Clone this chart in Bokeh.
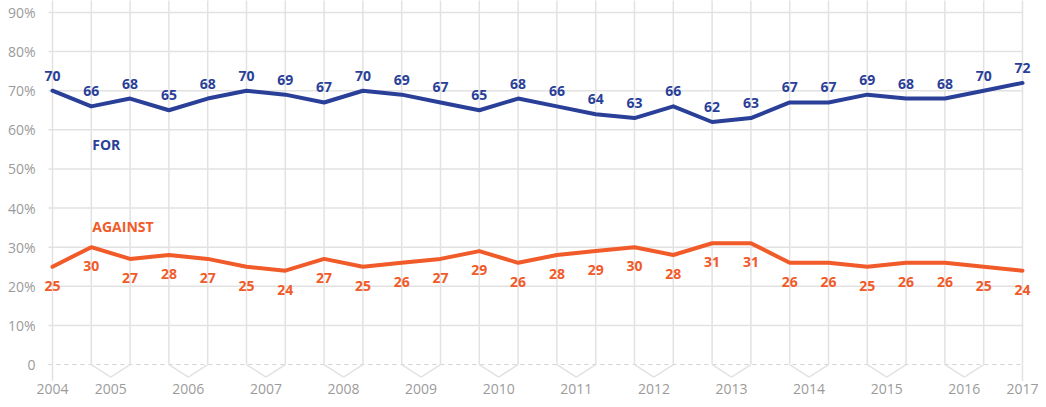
from bokeh.plotting import figure
from bokeh.models import FixedTicker, Range1d, ColumnDataSource
from bokeh.core.properties import value
from bokeh.embed import file_html
from bokeh.resources import INLINE

# ---- data ----
for_vals = [70, 66, 68, 65, 68, 70, 69, 67, 70, 69, 67, 65, 68, 66, 64, 63, 66, 62, 63, 67, 67, 69, 68, 68, 70, 72]
against_vals = [25, 30, 27, 28, 27, 25, 24, 27, 25, 26, 27, 29, 26, 28, 29, 30, 28, 31, 31, 26, 26, 25, 26, 26, 25, 24]
years = ["2004", "2005", "2006", "2007", "2008", "2009", "2010", "2011", "2012",
         "2013", "2014", "2015", "2016", "2017"]
y_ticks = [0, 10, 20, 30, 40, 50, 60, 70, 80, 90]
y_tick_labels = ["0", "10%", "20%", "30%", "40%", "50%", "60%", "70%", "80%", "90%"]
series_names = ["FOR", "AGAINST"]

BLUE = "#2a3f98"
ORANGE = "#f15a29"
GRID = "#e2e2e2"
LABEL_GRAY = "#9b9b9b"
FONT = "Open Sans"

n = len(for_vals)
idx = list(range(n))
# year label positions: first survey, then each pair of surveys, then last
year_pos = [0.0] + [2 * k - 0.5 for k in range(1, 13)] + [float(n - 1)]

src = ColumnDataSource(dict(
    x=idx,
    f=for_vals,
    a=against_vals,
    ft=[str(v) for v in for_vals],
    at=[str(v) for v in against_vals],
))

p = figure(width=1038, height=399, output_backend="svg", toolbar_location=None,
           x_range=Range1d(-0.309, 25.412), y_range=Range1d(-4.6, 93.07),
           min_border_left=40, min_border_right=0, min_border_top=0, min_border_bottom=17)
p.outline_line_color = None
p.background_fill_color = "white"
p.border_fill_color = "white"
p.xgrid.grid_line_color = None
p.ygrid.grid_line_color = None

gx0 = -0.103
gx1 = float(n - 1)
# horizontal grid lines
hg = y_ticks[1:]
p.segment(x0=[gx0] * len(hg), y0=hg, x1=[gx1] * len(hg), y1=hg,
          line_color=GRID, line_width=1.5)
# zero line dashed
p.segment(x0=[gx0], y0=[0], x1=[gx1], y1=[0], line_color="#d4d4d4",
          line_width=1.2, line_dash="4 4")

# vertical grid lines at each survey
p.segment(x0=idx, y0=[0] * n, x1=idx, y1=[100] * n, line_color=GRID, line_width=1.5)
# bracket ticks joining each pair of surveys below zero line
bx0, by0, bx1, by1 = [], [], [], []
for k in range(1, 13):
    mid = 2 * k - 0.5
    for xi in (2 * k - 1, 2 * k):
        bx0.append(xi); by0.append(0); bx1.append(mid); by1.append(-3.2)
bx0 += [0, n - 1]; by0 += [0, 0]; bx1 += [0, n - 1]; by1 += [-4.2, -4.2]
p.segment(x0=bx0, y0=by0, x1=bx1, y1=by1, line_color=GRID, line_width=1.5)

# lines
p.line("x", "f", source=src, line_color=BLUE, line_width=4, line_join="round", line_cap="round")
p.line("x", "a", source=src, line_color=ORANGE, line_width=4, line_join="round", line_cap="round")

# value labels
p.text("x", "f", text="ft", source=src, text_align="center", text_baseline="middle",
       y_offset=-15, text_color=BLUE, text_font=value(FONT), text_font_size="14px",
       text_font_style="bold")
p.text("x", "a", text="at", source=src, text_align="center", text_baseline="middle",
       y_offset=19, text_color=ORANGE, text_font=value(FONT), text_font_size="14px",
       text_font_style="bold")

# series names
p.text(x=[1, 1], y=[56.3, 35.4], text=series_names, text_align="left", text_baseline="middle",
       x_offset=1, text_color=[BLUE, ORANGE], text_font=value(FONT), text_font_size="14px",
       text_font_style="bold")

# axes
p.yaxis.ticker = FixedTicker(ticks=y_ticks)
p.yaxis.major_label_overrides = {t: l for t, l in zip(y_ticks, y_tick_labels)}
p.yaxis.axis_line_color = None
p.yaxis.major_tick_line_color = None
p.yaxis.minor_tick_line_color = None
p.yaxis.major_tick_out = 0
p.yaxis.major_label_standoff = 5
p.yaxis.major_label_text_color = LABEL_GRAY
p.yaxis.major_label_text_font = FONT
p.yaxis.major_label_text_font_size = "14px"

p.xaxis.ticker = FixedTicker(ticks=year_pos)
p.xaxis.major_label_overrides = {t: l for t, l in zip(year_pos, years)}
p.xaxis.axis_line_color = None
p.xaxis.major_tick_line_color = None
p.xaxis.minor_tick_line_color = None
p.xaxis.major_tick_out = 0
p.xaxis.major_label_standoff = 1
p.xaxis.major_label_text_color = LABEL_GRAY
p.xaxis.major_label_text_font = FONT
p.xaxis.major_label_text_font_size = "14px"

open("out.html", "w").write(file_html(p, INLINE))
